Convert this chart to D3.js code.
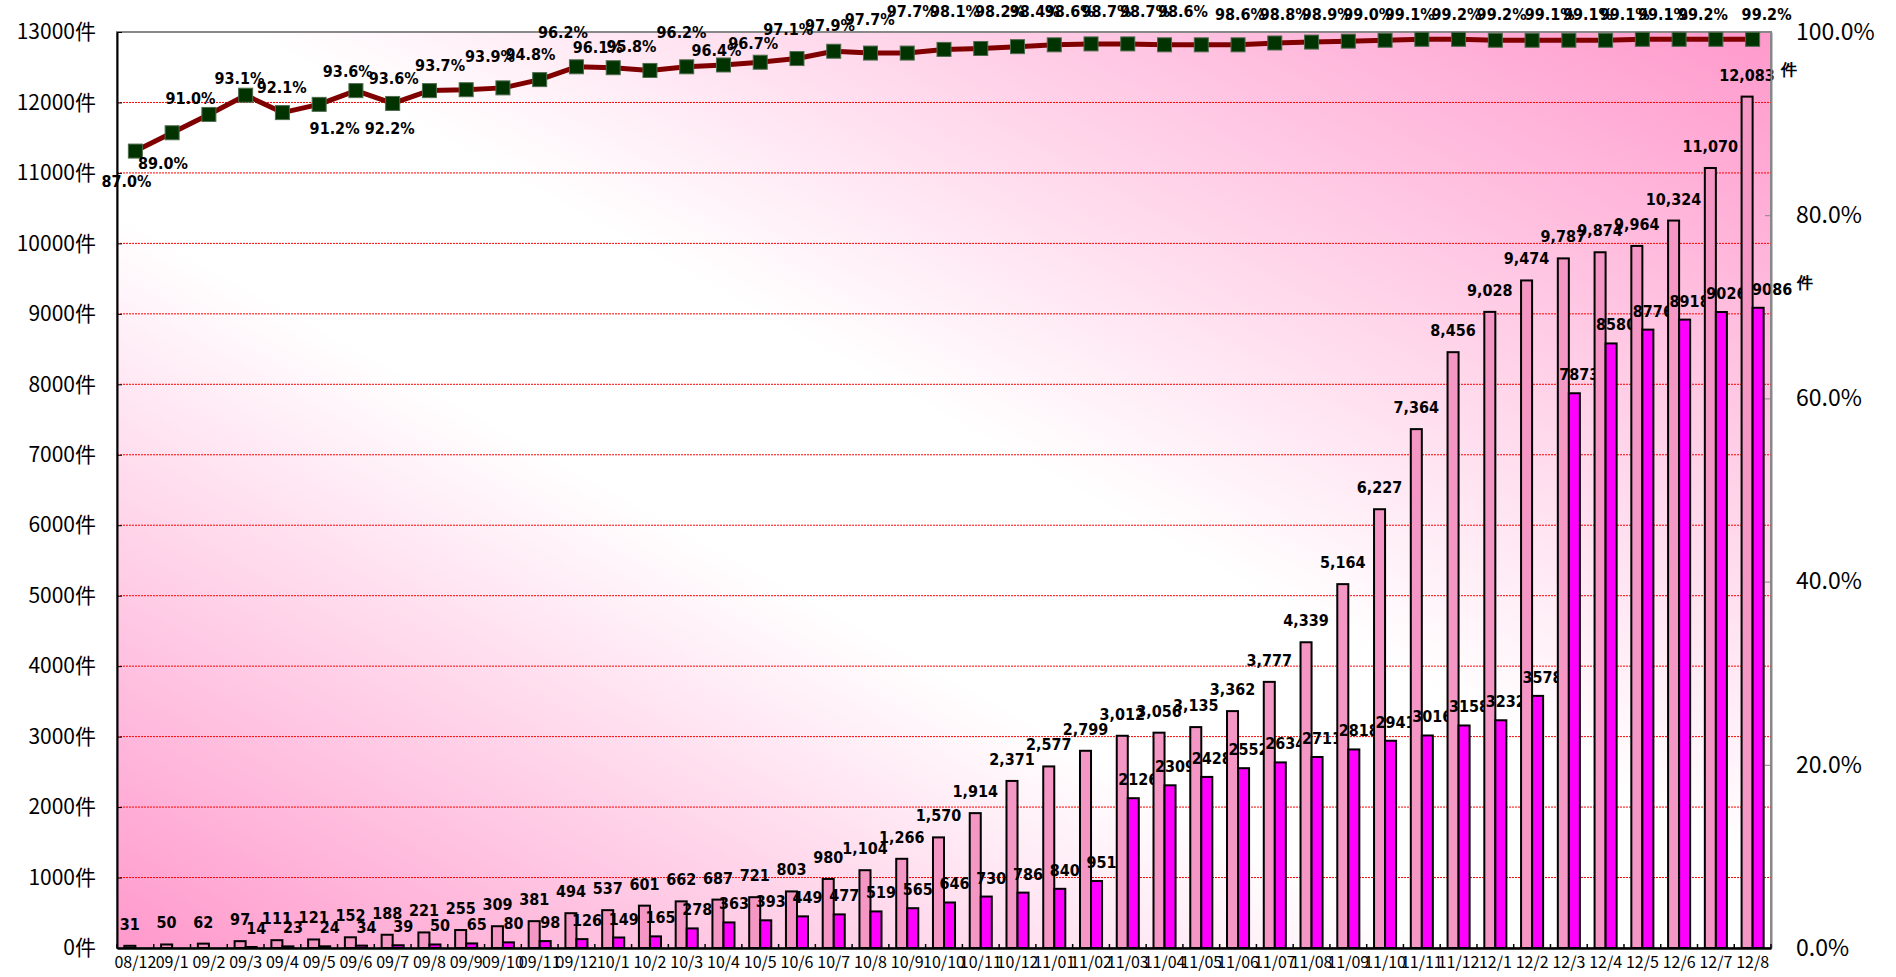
<!DOCTYPE html>
<html>
<head>
<meta charset="utf-8">
<script src="https://cdn.jsdelivr.net/npm/d3@7"></script>
<style>
  body { margin: 0; background: #fff; }
  .axis text { font-family: "Noto Sans CJK JP", "Noto Sans", sans-serif; fill: #000; }
  .lbl { font-family: "Liberation Sans Narrow", "Arial Narrow", "DejaVu Sans Condensed", sans-serif; font-weight: bold; fill: #000; }
</style>
</head>
<body>
<div id="chart-container"></div>
<script>
// month labels
const categories = ["08/12",
  "09/1","09/2","09/3","09/4","09/5","09/6","09/7","09/8","09/9","09/10","09/11","09/12",
  "10/1","10/2","10/3","10/4","10/5","10/6","10/7","10/8","10/9","10/10","10/11","10/12",
  "11/01","11/02","11/03","11/04","11/05","11/06","11/07","11/08","11/09","11/10","11/11","11/12",
  "12/1","12/2","12/3","12/4","12/5","12/6","12/7","12/8"];

// pink bars (件)
const totalCount = [31,
  50,62,97,111,121,152,188,221,255,309,381,494,
  537,601,662,687,721,803,980,1104,1266,1570,1914,2371,
  2577,2799,3012,3056,3135,3362,3777,4339,5164,6227,7364,8456,
  9028,9474,9787,9874,9964,10324,11070,12083];

// magenta bars (件)
const subCount = [null,
  null,null,14,23,24,34,39,50,65,80,98,126,
  149,165,278,363,393,449,477,519,565,646,730,786,
  840,951,2126,2309,2428,2552,2634,2711,2818,2941,3016,3158,
  3232,3578,7873,8580,8776,8918,9026,9086];

// line, right axis (%)
const rateValues = [87.0,
  89.0,91.0,93.1,91.2,92.1,93.6,92.2,93.6,93.7,93.9,94.8,96.2,
  96.1,95.8,96.2,96.4,96.7,97.1,97.9,97.7,97.7,98.1,98.2,98.4,
  98.6,98.7,98.7,98.6,98.6,98.6,98.8,98.9,99.0,99.1,99.2,99.2,
  99.1,99.1,99.1,99.1,99.2,99.2,99.2,99.2];

// line data labels as they appear in the picture
const rateLabels = ["87.0%","89.0%","91.0%","93.1%","92.1%","93.6%","91.2%","92.2%","93.6%","93.7%",
  "93.9%","94.8%","96.2%","96.1%","95.8%","96.2%","96.4%","96.7%","97.1%","97.9%",
  "97.7%","97.7%","98.1%","98.2%","98.4%","98.6%","98.7%","98.7%","98.6%","98.6%",
  "98.8%","98.9%","99.0%","99.1%","99.2%","99.2%","99.1%","99.1%","99.1%","99.1%",
  "99.2%","99.2%"];

// where those labels sit: category index (fractional) and level on the % axis
const rateLabelAt = [-0.24,0.75,1.50,2.83,3.98,5.78,5.42,6.92,7.03,8.29,
  9.65,10.75,11.63,12.58,13.50,14.86,15.81,16.81,17.76,18.90,
  19.98,21.12,22.30,23.52,24.47,25.42,26.42,27.47,28.50,30.05,
  31.27,32.41,33.54,34.67,35.94,37.17,38.48,39.52,40.52,41.56,
  42.65,44.38];
const rateLabelLevel = [83.7,85.7,92.8,94.9,93.9,95.7,89.5,89.5,94.9,96.3,
  97.3,97.6,100.0,98.3,98.4,100.0,98.0,98.8,100.3,100.7,
  101.4,102.2,102.2,102.2,102.2,102.2,102.2,102.2,102.2,101.9,
  101.9,101.9,101.9,101.9,101.9,101.9,101.9,101.9,101.9,101.9,
  101.9,101.9];

const countTicks = d3.range(0, 13001, 1000);
const rateTicks = [0, 20, 40, 60, 80, 100];

const width = 1896, height = 977;
const margin = {top: 32, right: 125, bottom: 29, left: 117};
const x0 = margin.left, x1 = width - margin.right, y0 = height - margin.bottom, y1 = margin.top;

const svg = d3.select("#chart-container").append("svg")
  .attr("width", width)
  .attr("height", height);

let xScale = d3.scaleBand().domain(categories).range([x0, x1]);
let bw = xScale.bandwidth();
let pairW = bw * 0.6;
let subScale = d3.scaleBand().domain(["total","sub"]).range([(bw - pairW) / 2, (bw + pairW) / 2]);
let idxScale = d3.scaleLinear().domain([0, categories.length - 1])
  .range([xScale(categories[0]) + bw / 2, xScale(categories[categories.length - 1]) + bw / 2]);

let yScale = d3.scaleLinear().domain([0, 13000]).range([y0, y1]);
let rScale = d3.scaleLinear().domain([0, 100]).range([y0, y1]);

// background gradient (pink corners bottom-left / top-right, white diagonal)
let defs = svg.append("defs");
let grad = defs.append("linearGradient")
  .attr("id", "bg").attr("x1", 0).attr("y1", 1).attr("x2", 1).attr("y2", 0);
grad.append("stop").attr("offset", "0%").attr("stop-color", "#ff99cc");
grad.append("stop").attr("offset", "40%").attr("stop-color", "#ffffff");
grad.append("stop").attr("offset", "54%").attr("stop-color", "#ffffff");
grad.append("stop").attr("offset", "100%").attr("stop-color", "#ff99cc");

svg.append("rect")
  .attr("x", x0).attr("y", y1)
  .attr("width", x1 - x0).attr("height", y0 - y1)
  .attr("fill", "url(#bg)")
  .attr("stroke", "#888").attr("stroke-width", 2);

// gridlines
svg.append("g").selectAll("line")
  .data(countTicks.filter(d => d > 0 && d < 13000)).enter()
  .append("line")
  .attr("x1", x0).attr("x2", x1)
  .attr("y1", d => yScale(d)).attr("y2", d => yScale(d))
  .attr("stroke", "#ff0000").attr("stroke-width", 1)
  .attr("stroke-dasharray", "2,1");

// bars
let groups = svg.append("g").selectAll("g")
  .data(categories).enter()
  .append("g")
  .attr("transform", d => "translate(" + xScale(d) + ",0)");

groups.append("rect")
  .attr("x", subScale("total"))
  .attr("width", subScale.bandwidth())
  .attr("y", (d, i) => yScale(totalCount[i]))
  .attr("height", (d, i) => y0 - yScale(totalCount[i]))
  .attr("fill", "#f497c4").attr("stroke", "#000").attr("stroke-width", 2);

groups.filter((d, i) => subCount[i] != null).append("rect")
  .attr("x", subScale("sub"))
  .attr("width", subScale.bandwidth())
  .attr("y", d => yScale(subCount[categories.indexOf(d)]))
  .attr("height", d => y0 - yScale(subCount[categories.indexOf(d)]))
  .attr("fill", "#ff00ff").attr("stroke", "#000").attr("stroke-width", 2);

// bar labels
let fmt = d3.format(",");
groups.append("text")
  .attr("class", "lbl")
  .attr("font-size", 16)
  .attr("text-anchor", "middle")
  .attr("x", subScale("total") + subScale.bandwidth() / 2)
  .attr("y", (d, i) => yScale(totalCount[i]) - 16)
  .text((d, i) => fmt(totalCount[i]));

groups.filter((d, i) => subCount[i] != null).append("text")
  .attr("class", "lbl")
  .attr("font-size", 16)
  .attr("text-anchor", "middle")
  .attr("x", (d) => subScale("sub") + subScale.bandwidth() / 2 + (categories.indexOf(d) == categories.length - 1 ? 14 : 5))
  .attr("y", d => yScale(subCount[categories.indexOf(d)]) - 13)
  .text(d => subCount[categories.indexOf(d)]);

// unit marks next to the last labels
let last = categories[categories.length - 1];
svg.append("text").attr("class", "lbl").attr("font-size", 16)
  .attr("x", xScale(last) + bw + 10).attr("y", yScale(totalCount[totalCount.length - 1]) - 22)
  .text("件");
svg.append("text").attr("class", "lbl").attr("font-size", 16)
  .attr("x", xScale(last) + bw + 26).attr("y", yScale(subCount[subCount.length - 1]) - 20)
  .text("件");

// axes
let leftAxis = d3.axisLeft(yScale).tickValues(countTicks)
  .tickFormat(d => d + "件").tickSizeInner(-5).tickSizeOuter(0).tickPadding(21);
let gl = svg.append("g").attr("class", "axis")
  .attr("transform", "translate(" + x0 + ",0)").call(leftAxis);
gl.selectAll("text").attr("font-size", 21);
gl.select(".domain").attr("stroke", "#000").attr("stroke-width", 2);

let rightAxis = d3.axisRight(rScale).tickValues(rateTicks)
  .tickFormat(d => d.toFixed(1) + "%").tickSizeInner(-6).tickSizeOuter(0).tickPadding(25);
let gr = svg.append("g").attr("class", "axis")
  .attr("transform", "translate(" + x1 + ",0)").call(rightAxis);
gr.selectAll("text").attr("font-size", 23);
gr.select(".domain").attr("stroke", "#888").attr("stroke-width", 2);
gr.selectAll(".tick line").attr("stroke", "#888");

let bottomAxis = d3.axisBottom(xScale).tickSize(0).tickPadding(9);
let gb = svg.append("g").attr("class", "axis")
  .attr("transform", "translate(0," + y0 + ")").call(bottomAxis);
gb.selectAll("text").attr("font-size", 16);
gb.select(".domain").attr("stroke", "#000").attr("stroke-width", 2.5);

// category boundary ticks
svg.append("g").selectAll("line")
  .data(d3.range(categories.length + 1)).enter()
  .append("line")
  .attr("x1", i => x0 + i * xScale.step()).attr("x2", i => x0 + i * xScale.step())
  .attr("y1", y0).attr("y2", y0 - 4)
  .attr("stroke", "#000").attr("stroke-width", 1.5);

// rate line
let line = d3.line()
  .x((d, i) => idxScale(i))
  .y(d => rScale(d));

svg.append("path")
  .datum(rateValues)
  .attr("d", line)
  .attr("fill", "none")
  .attr("stroke", "#800000")
  .attr("stroke-width", 5)
  .attr("stroke-linejoin", "round");

let mk = 14;
svg.append("g").selectAll("rect")
  .data(rateValues).enter()
  .append("rect")
  .attr("x", (d, i) => idxScale(i) - mk / 2)
  .attr("y", d => rScale(d) - mk / 2)
  .attr("width", mk).attr("height", mk)
  .attr("fill", "#003300")
  .attr("stroke", "#4d6b4d").attr("stroke-width", 1);

svg.append("g").selectAll("text")
  .data(rateLabels).enter()
  .append("text")
  .attr("class", "lbl")
  .attr("font-size", 16)
  .attr("text-anchor", "middle")
  .attr("dy", "0.35em")
  .attr("x", (d, i) => idxScale(rateLabelAt[i]))
  .attr("y", (d, i) => rScale(rateLabelLevel[i]))
  .text(d => d);
</script>
</body>
</html>
